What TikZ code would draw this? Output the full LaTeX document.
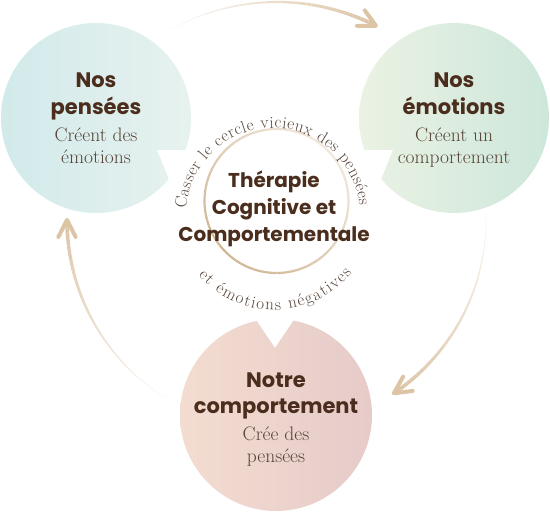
\documentclass[tikz,border=0pt]{standalone}
\usepackage{fontspec}
\newfontfamily\headfont{Poppins}
\usetikzlibrary{calc,decorations.text}
\definecolor{headc}{HTML}{4A2D1C}
\definecolor{subc}{HTML}{574539}
\definecolor{arrowc}{HTML}{DCC4A5}
\definecolor{ringdark}{HTML}{D0B796}
\definecolor{ringlight}{HTML}{F1E7DA}
\definecolor{aL}{HTML}{D2EAEB}
\definecolor{aR}{HTML}{E7F2EE}
\definecolor{bL}{HTML}{EAF2E3}
\definecolor{bR}{HTML}{CDE7DB}
\definecolor{cL}{HTML}{F3DCD0}
\definecolor{cR}{HTML}{E6CBC9}
\newcommand\cvfont{\fontsize{17}{17}\selectfont}
\tikzset{
  head/.style={anchor=base, text=headc, font=\headfont\bfseries\fontsize{21}{21}\selectfont, inner sep=0pt},
  midhead/.style={head, font=\headfont\bfseries\fontsize{20}{20}\selectfont},
  sub/.style={anchor=base, text=subc, font=\fontsize{19.5}{19.5}\selectfont, inner sep=0pt},
  tip/.style={draw=arrowc, line width=4pt, line cap=round, line join=round},
}
\begin{document}
\begin{tikzpicture}[x=1pt,y=1pt]
\useasboundingbox (0,0) rectangle (550,512);

% left circle with notch
\begin{scope}[even odd rule]
\clip (-5,-5) rectangle (555,517) (157,362) -- +(0:170) -- +(-68:170) -- cycle;
\shade[left color=aL, right color=aR] (96,394) circle[radius=95];
\end{scope}
% right circle with notch
\begin{scope}[even odd rule]
\clip (-5,-5) rectangle (555,517) (393,362) -- +(180:170) -- +(248:170) -- cycle;
\shade[left color=bL, right color=bR] (454,394) circle[radius=95];
\end{scope}
% bottom circle with notch
\begin{scope}[even odd rule]
\clip (-5,-5) rectangle (555,517) (275,164) -- +(56:170) -- +(124:170) -- cycle;
\shade[left color=cL, right color=cR] (276,97) circle[radius=96];
\end{scope}

% arrows
\coordinate (O) at (277,292);
\foreach \sa/\ea/\r in {119/63/218, 1.5/-56/209, 238/180/210} {
  \foreach \i in {0,...,49} {
    \pgfmathsetmacro\aa{\sa+(\ea-\sa)*\i/50}
    \pgfmathsetmacro\ab{\sa+(\ea-\sa)*(\i+1)/50}
    \pgfmathsetmacro\w{0.5+3.3*\i/49}
    \pgfmathsetmacro\p{12+88*\i/49}
    \draw[draw=arrowc!\p!white, line width=\w pt] ($(O)+(\aa:\r)$) arc[start angle=\aa, end angle=\ab, radius=\r];
  }
  \coordinate (tp) at ($(O)+(\ea:\r)$);
  \draw[tip] ($(tp)+(\ea+90+27:19)$) -- (tp) -- ($(tp)+(\ea+90-27:19)$);
}

% central ring
\coordinate (C) at (276.5,311);
\foreach \i in {0,...,71} {
  \pgfmathsetmacro\aa{\i*5}
  \pgfmathsetmacro\ab{\i*5+5}
  \pgfmathsetmacro\p{50+50*cos(\aa+2.5-225)}
  \draw[draw=ringdark!\p!ringlight, line width=2.2pt] ($(C)+(\aa:72)$) arc[start angle=\aa, end angle=\ab, radius=72];
}

% curved texts
\coordinate (TT) at (273,297);
\coordinate (TB) at (274,302);
{\cvfont
\path[decorate, decoration={text along path, text align=fit to path, text color=subc,
  text={|\cvfont|Casser le cercle vicieux des pensées}}]
  ($(TT)+(176:87)$) arc[start angle=176, end angle=6, radius=87];
\path[decorate, decoration={text along path, text align=fit to path, text color=subc,
  text={|\cvfont|et émotions négatives}}]
  ($(TB)+(221:100)$) arc[start angle=221, end angle=321, radius=100];
}

% left texts
\node[head] (l1) at (96,424) {Nos};
\node[head] (l2) at (96,397) {pensées};
\node[sub] (l3) at (96,370) {Créent des};
\node[sub] (l4) at (96,348.5) {émotions};
% right texts
\node[head] (r1) at (454,424) {Nos};
\node[head] (r2) at (454,397) {émotions};
\node[sub] (r3) at (454,370) {Créent un};
\node[sub] (r4) at (454,348.5) {comportement};
% bottom texts
\node[head] (b1) at (276,124) {Notre};
\node[head] (b2) at (276,98) {comportement};
\node[sub] (b3) at (276,71) {Crée des};
\node[sub] (b4) at (276,49) {pensées};
% centre texts
\node[midhead] (c1) at (274,324) {Thérapie};
\node[midhead] (c2) at (274,297) {Cognitive et};
\node[midhead] (c3) at (274,270) {Comportementale};
\end{tikzpicture}
\end{document}
